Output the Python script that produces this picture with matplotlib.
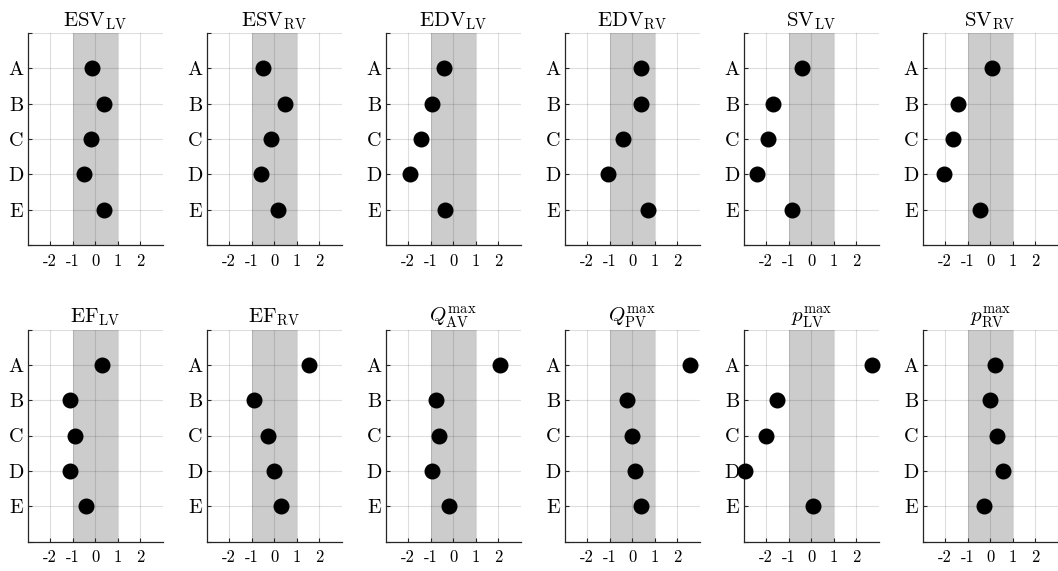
import matplotlib
matplotlib.use("Agg")
import matplotlib.pyplot as plt

plt.rcParams['mathtext.fontset'] = 'cm'
plt.rcParams['font.family'] = ['cmr10', 'DejaVu Serif']
plt.rcParams['axes.unicode_minus'] = False

categories = ["A", "B", "C", "D", "E"]
xtick_values = [-2, -1, 0, 1, 2]
xtick_labels = ["-2", "-1", "0", "1", "2"]

titles = [
    r"$\mathrm{ESV}_{\mathrm{LV}}$", r"$\mathrm{ESV}_{\mathrm{RV}}$",
    r"$\mathrm{EDV}_{\mathrm{LV}}$", r"$\mathrm{EDV}_{\mathrm{RV}}$",
    r"$\mathrm{SV}_{\mathrm{LV}}$", r"$\mathrm{SV}_{\mathrm{RV}}$",
    r"$\mathrm{EF}_{\mathrm{LV}}$", r"$\mathrm{EF}_{\mathrm{RV}}$",
    r"$Q^{\max}_{\mathrm{AV}}$", r"$Q^{\max}_{\mathrm{PV}}$",
    r"$p^{\max}_{\mathrm{LV}}$", r"$p^{\max}_{\mathrm{RV}}$",
]

esv_lv = [-0.16, 0.40, -0.19, -0.52, 0.39]
esv_rv = [-0.50, 0.49, -0.13, -0.59, 0.16]
edv_lv = [-0.40, -0.95, -1.44, -1.94, -0.37]
edv_rv = [0.40, 0.37, -0.43, -1.07, 0.71]
sv_lv = [-0.43, -1.69, -1.94, -2.39, -0.84]
sv_rv = [0.09, -1.45, -1.64, -2.04, -0.46]
ef_lv = [0.28, -1.10, -0.89, -1.11, -0.40]
ef_rv = [1.54, -0.92, -0.27, 0.00, 0.28]
q_av = [2.10, -0.77, -0.62, -0.95, -0.19]
q_pv = [2.55, -0.25, 0.00, 0.12, 0.41]
p_lv = [2.70, -1.50, -1.99, -2.93, 0.09]
p_rv = [0.21, 0.00, 0.28, 0.58, -0.28]

series = [esv_lv, esv_rv, edv_lv, edv_rv, sv_lv, sv_rv,
          ef_lv, ef_rv, q_av, q_pv, p_lv, p_rv]

W, H = 1058, 571
fig = plt.figure(figsize=(W / 100, H / 100), dpi=100)

ax_w, ax_h = 135, 212
lefts = [27.7 + 179 * i for i in range(6)]
tops = [33, 329.5]

ypos = [1, 2, 3, 4, 5]
axcol = '#262626'

for k, (title, vals) in enumerate(zip(titles, series)):
    r, c = divmod(k, 6)
    left = lefts[c]
    bottom = H - tops[r] - ax_h
    ax = fig.add_axes([left / W, bottom / H, ax_w / W, ax_h / H])
    ax.axvspan(-1, 1, color='#cccccc', lw=0, zorder=0)
    ax.set_xlim(-3, 3)
    ax.set_ylim(6, 0)
    ax.set_xticks(xtick_values)
    ax.set_xticklabels(xtick_labels, fontsize=12)
    ax.set_yticks([0] + ypos + [6])
    ax.set_yticklabels([""] + categories + [""], fontsize=14.5)
    ax.grid(True, color=axcol, alpha=0.15, lw=0.8, zorder=1)
    ax.set_axisbelow(False)
    ax.plot(vals, ypos, 'o', color='black', ms=10.5, ls='none',
            clip_on=False, zorder=3)
    for s in ['top', 'right']:
        ax.spines[s].set_visible(False)
    for s in ['left', 'bottom']:
        ax.spines[s].set_color(axcol)
        ax.spines[s].set_linewidth(0.9)
    ax.tick_params(direction='in', length=3, width=0.8, colors=axcol,
                   labelcolor='black')
    ax.tick_params(axis='y', pad=3)
    ax.tick_params(axis='x', pad=6)
    ax.set_title(title, fontsize=15, pad=5)

fig.savefig("out.png", dpi=100)
